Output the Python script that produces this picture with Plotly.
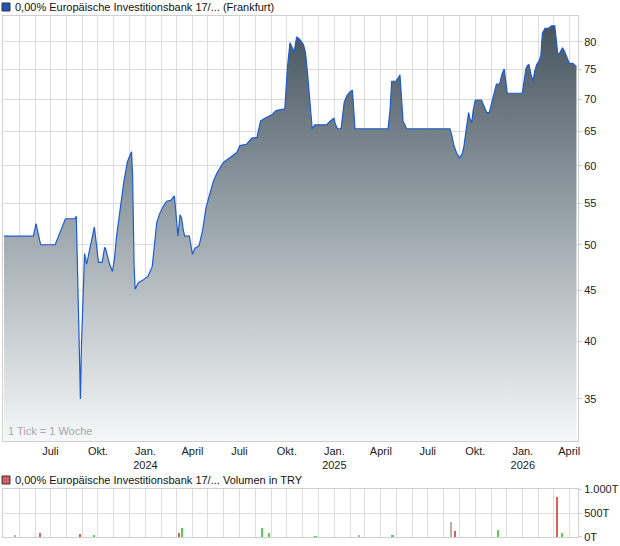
import math
import plotly.graph_objects as go

# ---------------- data ----------------
price_dates = [
    "2023-04-02", "2023-05-29", "2023-06-03", "2023-06-12", "2023-07-10", "2023-07-30",
    "2023-08-17", "2023-08-20", "2023-08-21", "2023-08-23", "2023-08-25", "2023-08-27",
    "2023-08-28", "2023-08-30", "2023-09-01", "2023-09-03", "2023-09-05", "2023-09-09",
    "2023-09-12", "2023-09-17", "2023-09-24", "2023-09-29", "2023-10-02", "2023-10-09",
    "2023-10-14", "2023-10-16", "2023-10-23", "2023-10-29", "2023-11-02", "2023-11-06",
    "2023-11-13", "2023-11-20", "2023-11-27", "2023-12-05", "2023-12-07", "2023-12-08",
    "2023-12-10", "2023-12-12", "2023-12-18", "2023-12-28", "2024-01-06", "2024-01-14",
    "2024-01-19", "2024-01-23", "2024-01-29", "2024-02-04", "2024-02-11", "2024-02-19",
    "2024-02-26", "2024-02-29", "2024-03-04", "2024-03-08", "2024-03-11", "2024-03-14",
    "2024-03-17", "2024-03-26", "2024-04-01", "2024-04-06", "2024-04-14", "2024-04-21",
    "2024-04-27", "2024-05-04", "2024-05-12", "2024-05-19", "2024-05-31", "2024-06-13",
    "2024-06-26", "2024-07-02", "2024-07-15", "2024-07-25", "2024-08-04", "2024-08-11",
    "2024-08-21", "2024-09-01", "2024-09-10", "2024-09-27", "2024-09-30", "2024-10-02",
    "2024-10-07", "2024-10-11", "2024-10-15", "2024-10-20", "2024-10-26", "2024-11-02",
    "2024-11-06", "2024-11-10", "2024-11-13", "2024-11-16", "2024-11-19", "2024-11-24",
    "2024-12-17", "2024-12-23", "2024-12-31", "2025-01-03", "2025-01-07", "2025-01-14",
    "2025-01-17", "2025-01-20", "2025-01-25", "2025-01-31", "2025-02-05", "2025-02-07",
    "2025-02-10", "2025-04-15", "2025-04-19", "2025-04-22", "2025-04-30", "2025-05-05",
    "2025-05-08", "2025-05-11", "2025-05-14", "2025-05-21", "2025-08-13", "2025-08-17",
    "2025-08-21", "2025-08-26", "2025-09-01", "2025-09-06", "2025-09-09", "2025-09-14",
    "2025-09-18", "2025-09-20", "2025-09-24", "2025-09-27", "2025-10-01", "2025-10-13",
    "2025-10-18", "2025-10-23", "2025-10-28", "2025-11-01", "2025-11-06", "2025-11-11",
    "2025-11-17", "2025-11-22", "2025-11-26", "2025-11-29", "2025-12-02", "2025-12-31",
    "2026-01-04", "2026-01-07", "2026-01-10", "2026-01-13", "2026-01-17", "2026-01-21",
    "2026-01-24", "2026-01-28", "2026-02-02", "2026-02-05", "2026-02-08", "2026-02-13",
    "2026-02-19", "2026-02-26", "2026-03-04", "2026-03-07", "2026-03-10", "2026-03-14",
    "2026-03-19", "2026-03-23", "2026-03-28", "2026-04-01", "2026-04-08", "2026-04-15",
]
price_values = [
    51.0, 51.0, 52.5, 50.0, 50.0, 53.1,
    53.1, 53.4, 50.8, 45.4, 41.2, 36.9,
    35.0, 39.7, 43.2, 46.9, 49.0, 47.8,
    48.6, 50.3, 52.1, 49.5, 48.0, 48.0,
    49.7, 49.5, 47.9, 47.0, 48.4, 51.0,
    54.5, 57.8, 60.6, 62.0, 59.0, 53.0,
    47.6, 45.1, 45.8, 46.1, 46.5, 47.5,
    50.6, 52.7, 53.8, 54.6, 55.3, 55.4,
    56.0, 53.4, 51.0, 53.6, 53.2, 51.8,
    51.0, 51.0, 48.9, 49.6, 49.9, 51.8,
    54.4, 56.1, 58.0, 59.1, 60.5, 61.2,
    61.9, 62.9, 63.1, 64.0, 64.1, 66.6,
    67.1, 67.5, 68.2, 68.5, 72.9, 75.3,
    79.8, 78.9, 78.1, 80.9, 80.4, 79.5,
    78.0, 74.4, 71.1, 67.9, 65.4, 66.0,
    66.0, 66.5, 67.0, 66.1, 65.4, 65.4,
    67.4, 69.5, 70.6, 71.2, 71.5, 68.5,
    65.4, 65.4, 68.5, 73.0, 73.0, 73.6,
    74.1, 70.4, 66.6, 65.4, 65.4, 64.2,
    62.8, 61.8, 61.1, 61.8, 62.8, 65.6,
    67.9, 67.1, 66.3, 68.3, 69.9, 69.9,
    68.8, 67.9, 67.9, 69.1, 71.0, 72.5,
    72.5, 74.3, 75.1, 73.4, 71.0, 71.0,
    73.7, 75.1, 75.7, 75.9, 74.1, 73.0,
    74.7, 75.9, 76.6, 77.5, 81.6, 82.5,
    82.5, 83.0, 83.0, 80.3, 77.6, 78.0,
    78.9, 78.2, 77.0, 76.1, 76.1, 75.5,
]

# volume in thousands of TRY ("T")
vol_dates = [
    "2023-04-23", "2023-06-11", "2023-08-27", "2023-09-24", "2024-03-06", "2024-03-12",
    "2024-08-14", "2024-08-27", "2024-11-26", "2025-02-19", "2025-04-24", "2025-08-15",
    "2025-08-23", "2025-11-14", "2026-03-09", "2026-03-18",
]
vol_values = [43, 85, 64, 21, 85, 190, 190, 85, 7, 21, 21, 320, 128, 150, 830, 85]
vol_kind = ["flat", "down", "down", "up", "down", "up", "up", "up", "up", "flat", "up",
            "flat", "down", "up", "down", "up"]

tick_dates = ["2023-07-01", "2023-10-01", "2024-01-01", "2024-04-01", "2024-07-01",
              "2024-10-01", "2025-01-01", "2025-04-01", "2025-07-01", "2025-10-01",
              "2026-01-01", "2026-04-01"]
tick_labels = ["Juli", "Okt.", "Jan.<br>2024", "April", "Juli", "Okt.", "Jan.<br>2025",
               "April", "Juli", "Okt.", "Jan.<br>2026", "April"]
price_ticks = [35, 40, 45, 50, 55, 60, 65, 70, 75, 80]
vol_ticks = [0, 500, 1000]
vol_tick_labels = ["0T", "500T", "1.000T"]

title_price = "0,00% Europäische Investitionsbank 17/... (Frankfurt)"
title_volume = "0,00% Europäische Investitionsbank 17/... Volumen in TRY"

# ---------------- styling ----------------
FONT = "Liberation Sans, Arial, sans-serif"
GRID = "#dcdcdc"
LINE = "#1f5bd0"
x_range = ["2023-03-31", "2026-04-18"]
y_lo, y_hi = 31.75, 84.9
kind_color = {"up": "#55d155", "down": "#d95f5f", "flat": "#b0b0b0"}

fig = go.Figure()

# invisible baseline for the area fill
fig.add_trace(go.Scatter(
    x=[price_dates[0], price_dates[-1]], y=[y_lo * 0.98, y_lo * 0.98],
    mode="lines", line=dict(width=0), hoverinfo="skip", showlegend=False,
    xaxis="x", yaxis="y",
))
fig.add_trace(go.Scatter(
    x=price_dates, y=price_values, mode="lines",
    line=dict(color=LINE, width=1.2, shape="linear"),
    fill="tonexty",
    fillgradient=dict(type="vertical",
                      colorscale=[[0, "#f6f7f8"], [0.5, "#9ca7ad"], [1, "#42515c"]],
                      start=y_lo, stop=y_hi),
    showlegend=False, xaxis="x", yaxis="y",
))

fig.add_trace(go.Bar(
    x=vol_dates, y=vol_values,
    marker=dict(color=[kind_color[k] for k in vol_kind], line=dict(width=0)),
    width=3.2 * 86400000, showlegend=False, xaxis="x2", yaxis="y2",
))

fig.update_layout(
    width=620, height=546,
    margin=dict(l=3, r=42, t=16, b=9, autoexpand=False),
    paper_bgcolor="white", plot_bgcolor="white",
    font=dict(family=FONT, size=11, color="#222"),
    bargap=0,
    xaxis=dict(
        domain=[0, 1], anchor="y", type="date", range=x_range, automargin=False,
        tickmode="array", tickvals=tick_dates, ticktext=tick_labels,
        showgrid=True, gridcolor=GRID, gridwidth=1,
        minor=dict(tickmode="linear", tick0="2023-04-01", dtick="M1",
                   showgrid=True, gridcolor=GRID, gridwidth=1),
        showline=True, linecolor="#cfcfcf", mirror=True,
        ticks="", tickfont=dict(size=11, color="#222"),
        zeroline=False,
    ),
    yaxis=dict(
        domain=[0.1843, 1], anchor="x", type="log", side="right", automargin=False,
        range=[math.log10(y_lo), math.log10(y_hi)],
        tickmode="array", tickvals=price_ticks, ticktext=[str(v) for v in price_ticks],
        showgrid=True, gridcolor=GRID, gridwidth=1,
        showline=True, linecolor="#cfcfcf", mirror=True,
        ticks="outside", ticklen=3, tickcolor="#cfcfcf",
        tickfont=dict(size=11, color="#222"), zeroline=False,
    ),
    xaxis2=dict(
        domain=[0, 1], anchor="y2", type="date", range=x_range, automargin=False,
        tickmode="array", tickvals=tick_dates, showticklabels=False,
        showgrid=True, gridcolor=GRID,
        minor=dict(tickmode="linear", tick0="2023-04-01", dtick="M1",
                   showgrid=True, gridcolor=GRID),
        showline=True, linecolor="#cfcfcf", mirror=True, ticks="", zeroline=False,
    ),
    yaxis2=dict(
        domain=[0, 0.0921], anchor="x2", side="right", range=[0, 1000], automargin=False,
        tickmode="array", tickvals=vol_ticks, ticktext=vol_tick_labels,
        showgrid=True, gridcolor=GRID,
        showline=True, linecolor="#cfcfcf", mirror=True,
        ticks="outside", ticklen=3, tickcolor="#cfcfcf",
        tickfont=dict(size=11, color="#222"), zeroline=False,
    ),
    shapes=[
        dict(type="rect", xref="paper", yref="paper",
             x0=-0.0017, x1=0.0122, y0=1.0096, y1=1.025,
             fillcolor="#2255bb", line=dict(color="#333", width=1)),
        dict(type="rect", xref="paper", yref="paper",
             x0=-0.0017, x1=0.0122, y0=0.1017, y1=0.1171,
             fillcolor="#d96060", line=dict(color="#333", width=1)),
    ],
    annotations=[
        dict(text=title_price, xref="paper", yref="paper", x=0.0175, y=1.0173,
             xanchor="left", yanchor="middle", showarrow=False,
             font=dict(size=11, color="#111")),
        dict(text=title_volume, xref="paper", yref="paper", x=0.0175, y=0.1094,
             xanchor="left", yanchor="middle", showarrow=False,
             font=dict(size=11, color="#111")),
        dict(text="1 Tick = 1 Woche", xref="paper", yref="paper", x=0.006, y=0.1875,
             xanchor="left", yanchor="bottom", showarrow=False,
             font=dict(size=11, color="#a8a8a8")),
    ],
)

fig.write_html(
    "out.html",
    config={"displayModeBar": False},
    post_script="document.body.style.margin='0';document.body.style.padding='0';"
                "document.body.style.overflow='hidden';",
)
